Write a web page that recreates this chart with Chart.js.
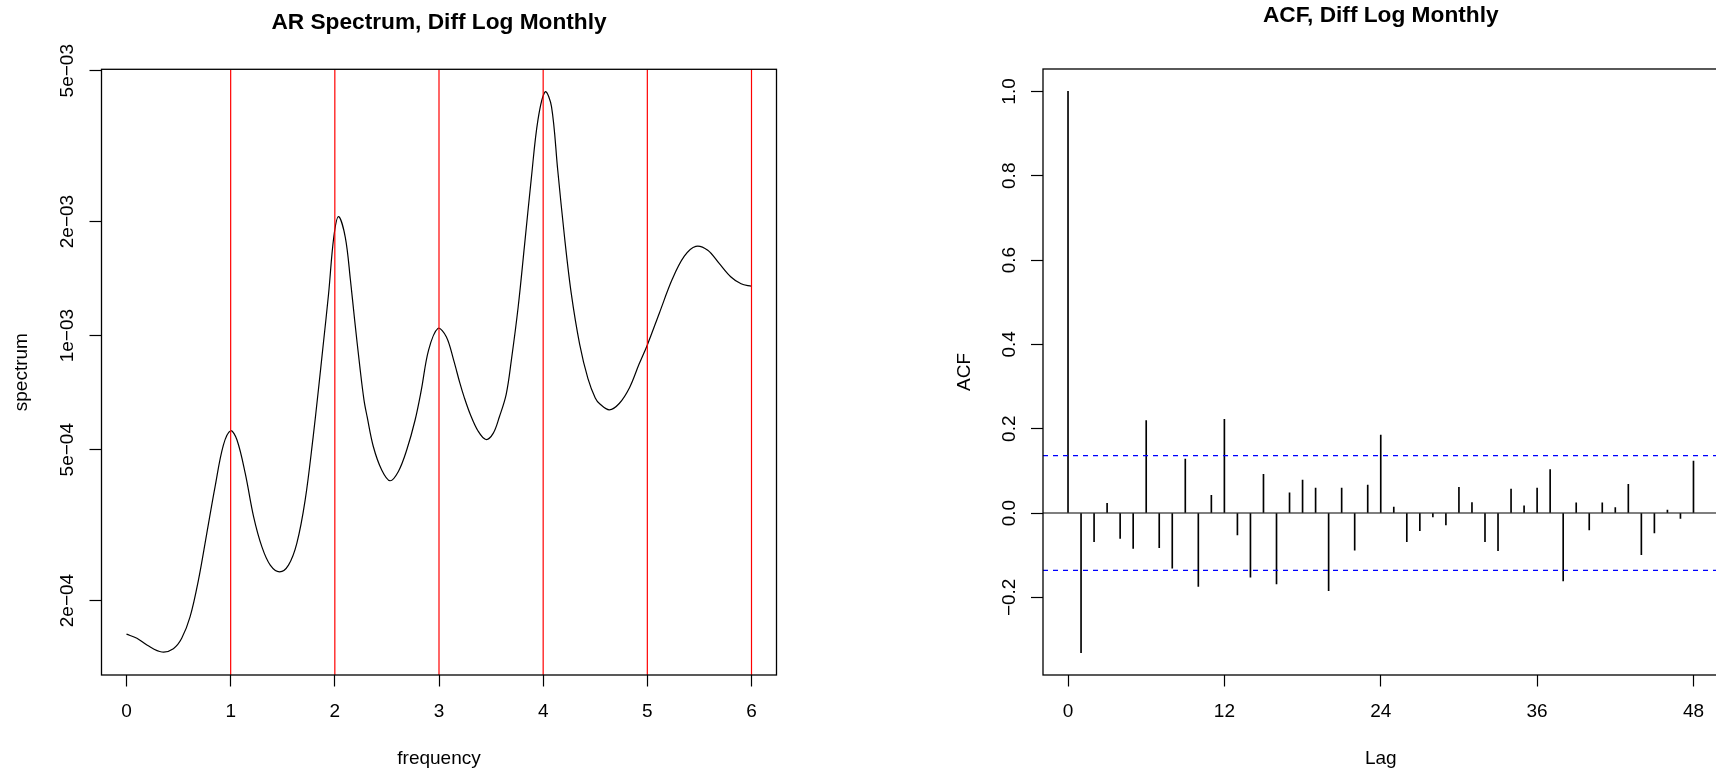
<!DOCTYPE html>
<html>
<head>
<meta charset="utf-8">
<script src="https://cdn.jsdelivr.net/npm/chart.js@4.4.1/dist/chart.umd.min.js"></script>
<style>
html,body{margin:0;padding:0;background:#fff;overflow:hidden;width:1716px;height:771px;position:relative;}
#c1{position:absolute;left:0;top:0;}
#c2{position:absolute;left:860px;top:0;}
</style>
</head>
<body>
<canvas id="c1" width="860" height="771"></canvas>
<canvas id="c2" width="880" height="771"></canvas>
<script>
// ---------- AR spectrum data ----------
const specFreq = [0, 0.10, 0.20, 0.34, 0.45, 0.53, 0.61, 0.69, 0.77, 0.85,
  0.93, 1.00, 1.06, 1.14, 1.22, 1.30, 1.38, 1.47, 1.555, 1.635,
  1.715, 1.79, 1.84, 1.89, 1.94, 1.99, 2.035, 2.10, 2.15, 2.19,
  2.24, 2.28, 2.31, 2.37, 2.45, 2.53, 2.61, 2.69, 2.77, 2.83,
  2.90, 2.99, 3.07, 3.14, 3.20, 3.24, 3.30, 3.375, 3.45, 3.52,
  3.58, 3.645, 3.695, 3.76, 3.82, 3.885, 3.95, 4.02, 4.08, 4.14,
  4.205, 4.27, 4.35, 4.43, 4.50, 4.545, 4.635, 4.73, 4.83, 4.92,
  5.00, 5.115, 5.24, 5.355, 5.465, 5.58, 5.69, 5.80, 5.90, 6.00];
const specValue = [1.63e-4, 1.59e-4, 1.524e-4, 1.463e-4, 1.493e-4, 1.59e-4, 1.81e-4, 2.26e-4, 3.00e-4, 3.99e-4,
  5.14e-4, 5.61e-4, 5.31e-4, 4.33e-4, 3.33e-4, 2.77e-4, 2.48e-4, 2.38e-4, 2.48e-4, 2.83e-4,
  3.68e-4, 5.35e-4, 7.1e-4, 9.55e-4, 1.29e-3, 1.82e-3, 2.06e-3, 1.82e-3, 1.40e-3, 1.10e-3,
  8.28e-4, 6.76e-4, 6.11e-4, 5.09e-4, 4.42e-4, 4.14e-4, 4.38e-4, 4.99e-4, 5.98e-4, 7.18e-4,
  9.16e-4, 1.045e-3, 9.93e-4, 8.63e-4, 7.5e-4, 6.9e-4, 6.2e-4, 5.6e-4, 5.32e-4, 5.52e-4,
  6.11e-4, 7.0e-4, 8.63e-4, 1.19e-3, 1.72e-3, 2.58e-3, 3.71e-3, 4.40e-3, 4.02e-3, 2.73e-3,
  1.82e-3, 1.29e-3, 9.5e-4, 7.7e-4, 6.85e-4, 6.6e-4, 6.37e-4, 6.62e-4, 7.3e-4, 8.4e-4,
  9.45e-4, 1.146e-3, 1.41e-3, 1.62e-3, 1.72e-3, 1.68e-3, 1.55e-3, 1.43e-3, 1.37e-3, 1.35e-3];
const harmonics = [1, 2, 3, 4, 5, 6];
const specXTicks = [0, 1, 2, 3, 4, 5, 6];
const specXTickLabels = ['0', '1', '2', '3', '4', '5', '6'];
const specYTicks = [2e-4, 5e-4, 1e-3, 2e-3, 5e-3];
const specYTickLabels = ['2e\u221204', '5e\u221204', '1e\u221203', '2e\u221203', '5e\u221203'];

// ---------- ACF data ----------
const acfLag = [0,1,2,3,4,5,6,7,8,9,10,11,12,13,14,15,16,17,18,19,20,21,22,23,24,
  25,26,27,28,29,30,31,32,33,34,35,36,37,38,39,40,41,42,43,44,45,46,47,48];
const acfValue = [1.0, -0.331, -0.068, 0.023, -0.060, -0.084, 0.219, -0.082, -0.131, 0.128,
  -0.174, 0.042, 0.222, -0.052, -0.152, 0.092, -0.168, 0.048, 0.078, 0.059,
  -0.184, 0.059, -0.088, 0.066, 0.185, 0.014, -0.068, -0.042, -0.009, -0.028,
  0.061, 0.025, -0.068, -0.089, 0.057, 0.017, 0.059, 0.103, -0.161, 0.024,
  -0.040, 0.024, 0.013, 0.068, -0.099, -0.047, 0.007, -0.013, 0.123];
const acfBound = 0.136;
const acfXTicks = [0, 12, 24, 36, 48];
const acfXTickLabels = ['0', '12', '24', '36', '48'];
const acfYTicks = [-0.2, 0, 0.2, 0.4, 0.6, 0.8, 1.0];
const acfYTickLabels = ['\u22120.2', '0.0', '0.2', '0.4', '0.6', '0.8', '1.0'];

// ---------- axis limits (R style 4% extension) ----------
const SPEC_XMIN = -0.24, SPEC_XMAX = 6.24;
const SPEC_YMIN = 1.272e-4, SPEC_YMAX = 5.043e-3;
const ACF_XMIN = -1.92, ACF_XMAX = 49.92;
const ACF_YMIN = -0.3842, ACF_YMAX = 1.0532;

const FONT = '"Liberation Sans", Arial, Helvetica, sans-serif';

function rPlot(o) {
  return {
    id: 'rplot',
    afterDraw(chart) {
      const ctx = chart.ctx, a = chart.chartArea;
      const xs = chart.scales.x, ys = chart.scales.y;
      ctx.save();
      ctx.strokeStyle = '#000';
      ctx.lineWidth = 1.3;
      ctx.strokeRect(a.left, a.top, a.right - a.left, a.bottom - a.top);
      ctx.fillStyle = '#000';
      ctx.font = '19px ' + FONT;
      ctx.textAlign = 'center';
      ctx.textBaseline = 'alphabetic';
      o.xTicks.forEach((v, i) => ctx.fillText(o.xLabels[i], xs.getPixelForValue(v), a.bottom + 42.3));
      o.yTicks.forEach((v, i) => {
        ctx.save();
        ctx.translate(a.left - 28.2, ys.getPixelForValue(v));
        ctx.rotate(-Math.PI / 2);
        ctx.fillText(o.yLabels[i], 0, 0);
        ctx.restore();
      });
      ctx.fillText(o.xTitle, (a.left + a.right) / 2, a.bottom + 88.5);
      ctx.save();
      ctx.translate(a.left - o.yTitleGap, (a.top + a.bottom) / 2);
      ctx.rotate(-Math.PI / 2);
      ctx.fillText(o.yTitle, 0, 0);
      ctx.restore();
      ctx.font = 'bold 22.7px ' + FONT;
      ctx.fillText(o.title, (a.left + a.right) / 2, o.titleY);
      ctx.restore();
    }
  };
}

function axisOpts(type, min, max, ticks, tl, isX) {
  return {
    type: type, min: min, max: max,
    offset: false,
    afterBuildTicks: s => { s.ticks = ticks.map(v => ({ value: v })); },
    afterFit: s => { if (isX) s.height = 0; else s.width = 0; },
    ticks: { display: false },
    grid: { display: true, offset: false, drawOnChartArea: false, drawTicks: true, tickLength: tl, tickColor: '#000', tickWidth: 1.2 },
    border: { display: false }
  };
}

// ---------- Chart 1: AR spectrum ----------
new Chart(document.getElementById('c1'), {
  type: 'line',
  data: {
    datasets: [
      {
        data: specFreq.map((f, i) => ({ x: f, y: specValue[i] })),
        borderColor: '#000', borderWidth: 1.2, pointRadius: 0,
        tension: 0.35, order: 2
      },
      ...harmonics.map(h => ({
        data: [{ x: h, y: SPEC_YMIN }, { x: h, y: SPEC_YMAX }],
        borderColor: '#ff0000', borderWidth: 1.2, pointRadius: 0, order: 1
      }))
    ]
  },
  options: {
    responsive: false, animation: false, devicePixelRatio: 1,
    layout: { padding: { left: 101.5, top: 69.3, right: 83.5, bottom: 96 } },
    plugins: { legend: { display: false }, title: { display: false }, tooltip: { enabled: false } },
    scales: {
      x: axisOpts('linear', SPEC_XMIN, SPEC_XMAX, specXTicks, 11.5, true),
      y: axisOpts('logarithmic', SPEC_YMIN, SPEC_YMAX, specYTicks, 12, false)
    }
  },
  plugins: [rPlot({
    xTicks: specXTicks, xLabels: specXTickLabels,
    yTicks: specYTicks, yLabels: specYTickLabels,
    xTitle: 'frequency', yTitle: 'spectrum', yTitleGap: 75,
    title: 'AR Spectrum, Diff Log Monthly', titleY: 29.3
  })]
});

// ---------- Chart 2: ACF ----------
new Chart(document.getElementById('c2'), {
  type: 'bar',
  data: {
    datasets: [
      {
        type: 'bar',
        data: acfLag.map((l, i) => ({ x: l, y: acfValue[i] })),
        backgroundColor: '#000', borderWidth: 0, barThickness: 1, order: 3
      },
      {
        type: 'line',
        data: [{ x: ACF_XMIN, y: 0 }, { x: ACF_XMAX, y: 0 }],
        borderColor: '#000', borderWidth: 1.2, pointRadius: 0, order: 2
      },
      {
        type: 'line',
        data: [{ x: ACF_XMIN, y: acfBound }, { x: ACF_XMAX, y: acfBound }],
        borderColor: '#0000ff', borderWidth: 1.2, borderDash: [5, 5], pointRadius: 0, order: 1
      },
      {
        type: 'line',
        data: [{ x: ACF_XMIN, y: -acfBound }, { x: ACF_XMAX, y: -acfBound }],
        borderColor: '#0000ff', borderWidth: 1.2, borderDash: [5, 5], pointRadius: 0, order: 1
      }
    ]
  },
  options: {
    responsive: false, animation: false, devicePixelRatio: 1,
    layout: { padding: { left: 183, top: 69, right: 21.5, bottom: 96 } },
    plugins: { legend: { display: false }, title: { display: false }, tooltip: { enabled: false } },
    scales: {
      x: axisOpts('linear', ACF_XMIN, ACF_XMAX, acfXTicks, 11.5, true),
      y: axisOpts('linear', ACF_YMIN, ACF_YMAX, acfYTicks, 12, false)
    }
  },
  plugins: [rPlot({
    xTicks: acfXTicks, xLabels: acfXTickLabels,
    yTicks: acfYTicks, yLabels: acfYTickLabels,
    xTitle: 'Lag', yTitle: 'ACF', yTitleGap: 73,
    title: 'ACF, Diff Log Monthly', titleY: 22
  })]
});
</script>
</body>
</html>
